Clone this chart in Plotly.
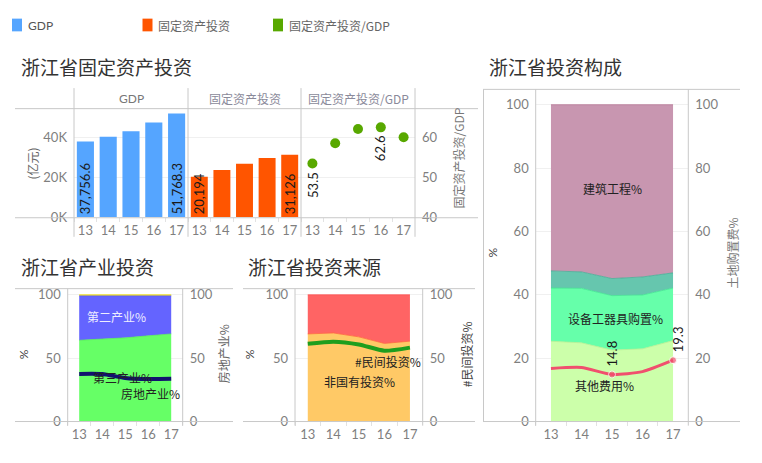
import plotly.graph_objects as go

W, H = 762, 463
def fx(p): return p / W
def fy(p): return 1 - p / H

NUM = "Lato"
CJK = "Noto Sans CJK SC"
GRID = "#f0f0f0"
LINE = "#c8c8c8"
TICK = "#7f7f7f"

# ---------------- data ----------------
years = ["13", "14", "15", "16", "17"]

gdp = [37756.6, 40173.0, 42886.5, 47251.4, 51768.3]
fai = [20194, 23555, 26665, 29571, 31126]
ratio = [53.5, 58.6, 62.2, 62.6, 60.1]
gdp_labels = ["37,756.6", "", "", "", "51,768.3"]
fai_labels = ["20,194", "", "", "", "31,126"]

# 产业投资 (%)
ind_tertiary = [64.1, 65.0, 66.0, 67.6, 69.1]
ind_secondary = [35.2, 34.3, 33.3, 31.7, 30.2]
ind_primary = [0.7, 0.7, 0.7, 0.7, 0.7]
real_estate = [37.5, 37.4, 34.3, 33.4, 33.6]

# 投资来源 (%)
non_state = [69.1, 69.9, 66.8, 61.6, 63.4]
state = [30.9, 30.1, 33.2, 38.4, 36.6]
private = [61.3, 63.0, 60.8, 55.8, 58.3]

# 投资构成 (%)
other_cost = [25.3, 24.8, 22.5, 22.9, 25.5]
equipment = [16.8, 17.2, 17.2, 17.0, 16.6]
install = [5.4, 5.2, 5.4, 5.7, 4.8]
building = [52.5, 52.8, 54.9, 54.4, 53.1]
land = [16.7, 17.0, 14.8, 15.7, 19.3]
land_marker = [0, 0, 7, 0, 7]

C_GDP = "#55a5ff"
C_FAI = "#ff5500"
C_RATIO = "#58a800"

fig = go.Figure()

# ---------------- top-left: bars & ratio ----------------
fig.add_trace(go.Bar(x=years, y=gdp, xaxis="x", yaxis="y", width=0.75,
                     marker=dict(color=C_GDP, line=dict(width=0)),
                     text=gdp_labels, textposition="inside", insidetextanchor="start",
                     textangle=-90, constraintext="none",
                     textfont=dict(family=NUM, size=13, color="#1a1a1a"), showlegend=False))
fig.add_trace(go.Bar(x=years, y=fai, xaxis="x2", yaxis="y2", width=0.75,
                     marker=dict(color=C_FAI, line=dict(width=0)),
                     text=fai_labels, textposition="inside", insidetextanchor="start",
                     textangle=-90, constraintext="none",
                     textfont=dict(family=NUM, size=13, color="#1a1a1a"), showlegend=False))
fig.add_trace(go.Scatter(x=years, y=ratio, xaxis="x3", yaxis="y3", mode="markers",
                         marker=dict(color=C_RATIO, size=10), showlegend=False))

# ---------------- bottom-left: 产业投资 ----------------
fig.add_trace(go.Scatter(x=years, y=ind_tertiary, xaxis="x4", yaxis="y4", stackgroup="ind",
                         mode="lines", line=dict(width=0.8, color="#55ee55"),
                         fillcolor="#66ff66", showlegend=False))
fig.add_trace(go.Scatter(x=years, y=ind_secondary, xaxis="x4", yaxis="y4", stackgroup="ind",
                         mode="lines", line=dict(width=0.8, color="#5555ee"),
                         fillcolor="#6464ff", showlegend=False))
fig.add_trace(go.Scatter(x=years, y=ind_primary, xaxis="x4", yaxis="y4", stackgroup="ind",
                         mode="lines", line=dict(width=0.8, color="#eedd00"),
                         fillcolor="#ffee33", showlegend=False))
fig.add_trace(go.Scatter(x=years, y=real_estate, xaxis="x4", yaxis="y5", mode="lines",
                         line=dict(width=4, color="#12126e", shape="spline", smoothing=0.6),
                         showlegend=False))

# ---------------- bottom-middle: 投资来源 ----------------
fig.add_trace(go.Scatter(x=years, y=non_state, xaxis="x6", yaxis="y6", stackgroup="src",
                         mode="lines", line=dict(width=0.8, color="#ff6a3a"),
                         fillcolor="#ffc966", showlegend=False))
fig.add_trace(go.Scatter(x=years, y=state, xaxis="x6", yaxis="y6", stackgroup="src",
                         mode="lines", line=dict(width=0.8, color="#ff5050"),
                         fillcolor="#ff6464", showlegend=False))
fig.add_trace(go.Scatter(x=years, y=private, xaxis="x6", yaxis="y7", mode="lines",
                         line=dict(width=4, color="#1e9e1e", shape="spline", smoothing=0.6),
                         showlegend=False))

# ---------------- right: 投资构成 ----------------
fig.add_trace(go.Scatter(x=years, y=other_cost, xaxis="x8", yaxis="y8", stackgroup="comp",
                         mode="lines", line=dict(width=0.8, color="#b8f090"),
                         fillcolor="#ccffaa", showlegend=False))
fig.add_trace(go.Scatter(x=years, y=equipment, xaxis="x8", yaxis="y8", stackgroup="comp",
                         mode="lines", line=dict(width=0.8, color="#40e890"),
                         fillcolor="#66ffaa", showlegend=False))
fig.add_trace(go.Scatter(x=years, y=install, xaxis="x8", yaxis="y8", stackgroup="comp",
                         mode="lines", line=dict(width=0.8, color="#45ad95"),
                         fillcolor="#66c6ae", showlegend=False))
fig.add_trace(go.Scatter(x=years, y=building, xaxis="x8", yaxis="y8", stackgroup="comp",
                         mode="lines", line=dict(width=0.8, color="#b87898"),
                         fillcolor="#c896b0", showlegend=False))
fig.add_trace(go.Scatter(x=years, y=land, xaxis="x8", yaxis="y9", mode="lines+markers",
                         line=dict(width=3, color="#f0506e", shape="spline", smoothing=0.6),
                         marker=dict(size=land_marker, color="#f0506e"),
                         showlegend=False))

# ---------------- axes ----------------
def xcat(d0, d1, anchor):
    return dict(domain=[fx(d0), fx(d1)], anchor=anchor, type="category",
                categoryorder="array", categoryarray=years, range=[-0.5, 4.5],
                showgrid=False, showline=False, zeroline=False, tickangle=0,
                ticks="outside", tickson="boundaries", ticklen=4, tickcolor="#e2e2e2",
                ticklabelstandoff=4,
                tickfont=dict(family=NUM, size=13, color=TICK), fixedrange=True)

def ylin(top, bottom, anchor, rng, tickvals, ticktext=None, side="left",
         overlaying=None, labels=True, grid=True):
    d = dict(domain=[fy(bottom), fy(top)], anchor=anchor, range=rng,
             tickvals=tickvals, showgrid=grid, gridcolor=GRID, gridwidth=1,
             showline=False, zeroline=False, ticks="", side=side,
             showticklabels=labels, ticklabelstandoff=6,
             tickfont=dict(family=NUM, size=13, color=TICK), fixedrange=True)
    if ticktext is not None:
        d["ticktext"] = ticktext
    if overlaying:
        d["overlaying"] = overlaying
    return d

BAR_RANGE = [0, 54150]
layout_axes = dict(
    xaxis=xcat(74, 188, "y"),
    yaxis=ylin(109, 220, "x", BAR_RANGE, [0, 20000, 40000], ["0K", "20K", "40K"]),
    xaxis2=xcat(188, 301, "y2"),
    yaxis2=ylin(109, 220, "x2", BAR_RANGE, [0, 20000, 40000], labels=False),
    xaxis3=xcat(301, 415, "y3"),
    yaxis3=ylin(109, 220, "x3", [40, 67.3], [40, 50, 60], side="right"),
    xaxis4=xcat(67.7, 182.7, "y4"),
    yaxis4=ylin(293, 428.6, "x4", [0, 104.9], [0, 50, 100]),
    yaxis5=ylin(293, 428.6, "x4", [0, 104.9], [0, 50, 100], side="right",
                overlaying="y4", grid=False),
    xaxis6=xcat(295, 422.7, "y6"),
    yaxis6=ylin(293, 428.6, "x6", [0, 104.9], [0, 50, 100]),
    yaxis7=ylin(293, 428.6, "x6", [0, 104.9], [0, 50, 100], side="right",
                overlaying="y6", grid=False),
    xaxis8=xcat(535.7, 688.3, "y8"),
    yaxis8=ylin(89.3, 428.6, "x8", [0, 104.85], [0, 20, 40, 60, 80, 100]),
    yaxis9=ylin(89.3, 428.6, "x8", [0, 104.85], [0, 20, 40, 60, 80, 100], side="right",
                overlaying="y8", grid=False),
)

# ---------------- separators ----------------
shapes = []
def hl(x0, x1, y):
    shapes.append(dict(type="line", xref="paper", yref="paper", x0=fx(x0), x1=fx(x1),
                       y0=fy(y), y1=fy(y), line=dict(color=LINE, width=1), layer="above"))
def vl(x, y0, y1):
    shapes.append(dict(type="line", xref="paper", yref="paper", x0=fx(x), x1=fx(x),
                       y0=fy(y0), y1=fy(y1), line=dict(color=LINE, width=1), layer="above"))

hl(15, 478, 109); hl(15, 478, 220.5)
for xv in (74, 188, 301, 415):
    vl(xv, 88, 240)
hl(15, 233, 293); hl(15, 233, 428.8)
vl(67.7, 293, 433); vl(182.7, 293, 433)
hl(243, 475, 293); hl(243, 475, 428.8)
vl(295, 293, 433); vl(422.7, 293, 433)
hl(483, 740, 89.3); hl(483, 740, 428.8)
vl(483.5, 89.3, 428.8)
vl(535.7, 89.3, 433); vl(688.3, 89.3, 433)

# legend swatches
for x0, col in ((12, C_GDP), (142.5, C_FAI), (273, C_RATIO)):
    shapes.append(dict(type="rect", xref="paper", yref="paper", x0=fx(x0), x1=fx(x0 + 10),
                       y0=fy(30), y1=fy(17), fillcolor=col, line=dict(width=0)))

# ---------------- annotations ----------------
ann = []
def ptext(text, x, y, size=12, color="#555", xanchor="left", angle=0, family=CJK):
    ann.append(dict(text=text, xref="paper", yref="paper", x=fx(x), y=fy(y),
                    xanchor=xanchor, yanchor="middle", showarrow=False, textangle=angle,
                    font=dict(family=family, size=size, color=color)))

# legend labels
ptext("GDP", 25.5, 24, 12, "#555", family=NUM)
ptext("固定资产投资", 155.5, 24, 12, "#666")
ptext("固定资产投资/GDP", 286.5, 24, 12, "#666")

# titles
ptext("浙江省固定资产投资", 19, 66, 19, "#333")
ptext("浙江省产业投资", 19, 270, 19, "#333")
ptext("浙江省投资来源", 246, 270, 19, "#333")
ptext("浙江省投资构成", 487, 66, 19, "#333")

# header row
ptext("GDP", 131, 99, 12, "#777", "center", family=NUM)
ptext("固定资产投资", 244.5, 99, 12, "#8a8a9a", "center")
ptext("固定资产投资/GDP", 358, 99, 12, "#8a8a9a", "center")

# axis titles
ptext("(亿元)", 32, 165, 12, "#666", "center", -90)
ptext("固定资产投资/GDP", 459, 160, 12, "#777", "center", -90)
ptext("%", 23, 360, 12, "#444", "center", -90, NUM)
ptext("房地产业%", 223, 360, 12, "#666", "center", -90)
ptext("%", 249, 360, 12, "#444", "center", -90, NUM)
ptext("#民间投资%", 466, 360, 12, "#444", "center", -90)
ptext("%", 492, 256, 12, "#444", "center", -90, NUM)
ptext("土地购置费%", 732, 257, 12, "#777", "center", -90)

def dtext(text, xref, yref, x, y, size=13, color="#222", angle=0, xanchor="center",
          yanchor="middle", yshift=0, xshift=0, family=CJK):
    ann.append(dict(text=text, xref=xref, yref=yref, x=x, y=y, xanchor=xanchor,
                    yanchor=yanchor, yshift=yshift, xshift=xshift, showarrow=False,
                    textangle=angle, font=dict(family=family, size=size, color=color)))

# ratio point labels
dtext(f"{ratio[0]}", "x3", "y3", 0, ratio[0], 13, "#1a1a1a", -90, yanchor="top", yshift=-6, family=NUM)
dtext(f"{ratio[3]}", "x3", "y3", 3, ratio[3], 13, "#1a1a1a", -90, yanchor="top", yshift=-6, family=NUM)

# area labels
dtext("第二产业%", "x4", "y4", 1.62, 83.2, 12, "#eeeeff")
dtext("第三产业%", "x4", "y4", 1.9, 35.0, 12, "#222")
dtext("房地产业%", "x4", "y4", 3.12, 22.0, 12, "#222")
dtext("#民间投资%", "x6", "y6", 3.13, 47.5, 12, "#222")
dtext("非国有投资%", "x6", "y6", 2.01, 31.5, 12, "#222")
dtext("建筑工程%", "x8", "y8", 2.02, 73.4, 12, "#222")
dtext("设备工器具购置%", "x8", "y8", 2.1, 32.6, 12, "#222")
dtext("其他费用%", "x8", "y8", 1.76, 11.4, 12, "#222")

# land purchase labels
dtext(f"{land[2]}", "x8", "y9", 2, land[2], 13, "#1a1a1a", -90, yanchor="bottom", yshift=6, family=NUM)
dtext(f"{land[4]}", "x8", "y9", 4, land[4], 13, "#1a1a1a", -90, yanchor="bottom", yshift=6, xshift=5, family=NUM)

fig.update_layout(
    width=W, height=H, margin=dict(l=0, r=0, t=0, b=0),
    paper_bgcolor="white", plot_bgcolor="white",
    showlegend=False, barmode="overlay",
    shapes=shapes, annotations=ann,
    font=dict(family=NUM, color="#555"),
    **layout_axes,
)

fig.write_html("out.html")
